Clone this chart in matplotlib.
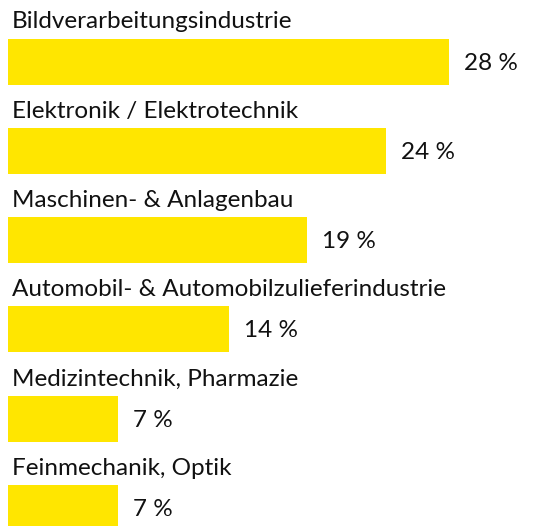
import matplotlib.pyplot as plt

categories = [
    "Bildverarbeitungsindustrie",
    "Elektronik / Elektrotechnik",
    "Maschinen- & Anlagenbau",
    "Automobil- & Automobilzulieferindustrie",
    "Medizintechnik, Pharmazie",
    "Feinmechanik, Optik",
]
values = [28, 24, 19, 14, 7, 7]

plt.rcParams['font.family'] = ['Lato', 'DejaVu Sans']

W, H = 542, 526
fig = plt.figure(figsize=(W / 100, H / 100), dpi=100)
ax = fig.add_axes([0, 0, 1, 1])

px_per_unit = 15.75
x0 = 8
ax.set_xlim(-x0 / px_per_unit, (W - x0) / px_per_unit)
ax.set_ylim(H, 0)
ax.axis('off')

step = 89.3
bar_h = 46
centers = [61.5 + step * i for i in range(len(values))]

ax.barh(centers, values, height=bar_h, color='#FFE600', edgecolor='none')

for c, v, name in zip(centers, values, categories):
    ax.text(4 / px_per_unit, c - bar_h / 2 - 10, name,
            fontsize=17.5, color='#111111', va='baseline', ha='left')
    ax.text(v + 15 / px_per_unit, c + 8, f"{v} %",
            fontsize=17.5, color='#111111', va='baseline', ha='left')

fig.savefig('out.png', dpi=100)
